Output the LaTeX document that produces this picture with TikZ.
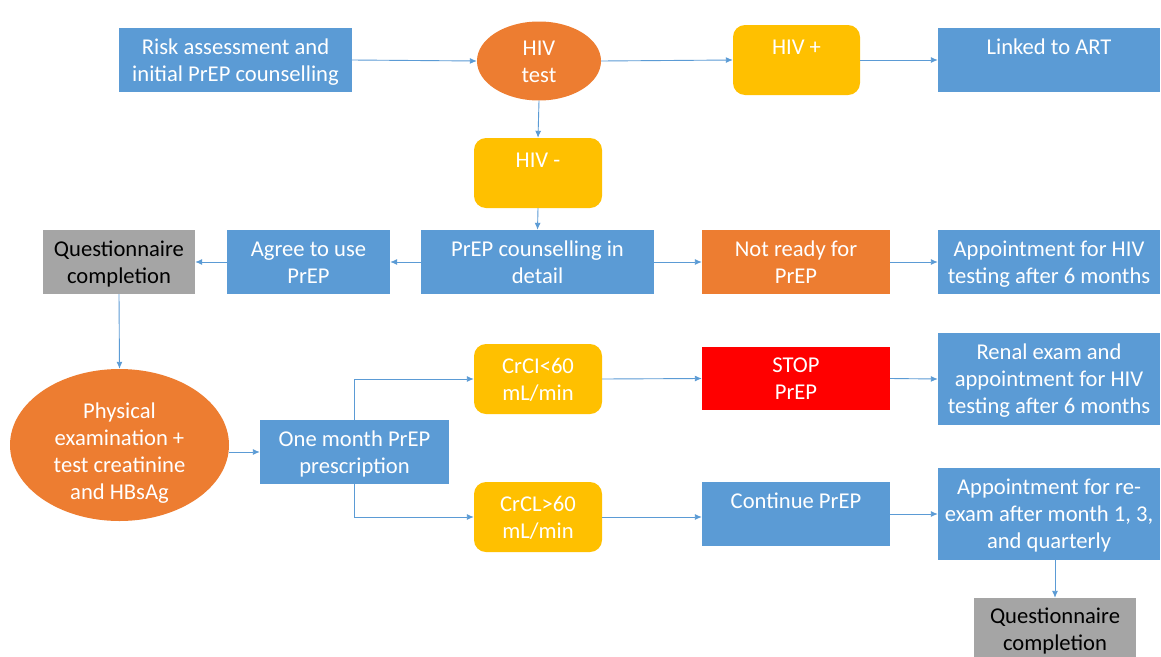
\documentclass[tikz,border=0pt]{standalone}
\usepackage{fontspec}
\setmainfont{Carlito}
\usetikzlibrary{shapes.geometric,arrows.meta}
\definecolor{cblue}{HTML}{5B9BD5}
\definecolor{corange}{HTML}{ED7D31}
\definecolor{cyellow}{HTML}{FFC000}
\definecolor{cgray}{HTML}{A5A5A5}
\definecolor{cred}{HTML}{FF0000}
\newcommand\Tr{\rule{0pt}{21pt}}
\newcommand\Tell{\rule{0pt}{34pt}}
\newcommand\Br{\rule[-5.5pt]{0pt}{5.5pt}}
\tikzset{
  base/.style={inner sep=0pt, align=center, text=white, font=\fontsize{22.6}{27}\selectfont},
  bbox/.style={base, rectangle, fill=cblue},
  obox/.style={base, rectangle, fill=corange},
  rbox/.style={base, rectangle, fill=cred},
  gbox/.style={base, rectangle, fill=cgray, text=black},
  ybox/.style={base, rectangle, rounded corners=12pt, fill=cyellow},
  oell/.style={base, ellipse, fill=corange},
  arr/.style={draw=cblue, line width=0.9pt, -{Latex[length=7pt,width=6pt]}},
}
\begin{document}
\begin{tikzpicture}[x=1pt,y=-1pt]
\useasboundingbox[fill=white] (0,0) rectangle (1161,656);
% top row
\node[bbox, minimum width=233, minimum height=64] (risk) at (235.5,60) {\Tr Risk assessment and\\initial PrEP counselling\Br};
\node[oell, minimum width=124, minimum height=79] (hiv) at (539,61) {\Tr HIV\\test\Br};
\node[ybox, minimum width=127, minimum height=70] (hivp) at (796.5,60) {\Tr HIV +\\\Br};
\node[bbox, minimum width=222, minimum height=64] (art) at (1049,60) {\Tr Linked to ART\\\Br};
\node[ybox, minimum width=128, minimum height=70] (hivn) at (538,173) {\Tr HIV -\\\Br};
% second row
\node[bbox, minimum width=233, minimum height=64] (coun) at (537.5,262) {\Tr PrEP counselling in\\detail\Br};
\node[bbox, minimum width=163, minimum height=64] (agree) at (308.5,262) {\Tr Agree to use\\PrEP\Br};
\node[gbox, minimum width=152, minimum height=64] (q1) at (119,262) {\Tr Questionnaire\\completion\Br};
\node[obox, minimum width=188, minimum height=64] (notr) at (796,262) {\Tr Not ready for\\PrEP\Br};
\node[bbox, minimum width=222, minimum height=64] (app1) at (1049,262) {\Tr Appointment for HIV\\testing after 6 months\Br};
% lower part
\node[oell, minimum width=219, minimum height=152, inner ysep=-10pt] (phys) at (119.5,445) {\Tell Physical\\examination +\\test creatinine\\and HBsAg\Br};
\node[bbox, minimum width=189, minimum height=64] (one) at (354.5,452) {\Tr One month PrEP\\prescription\Br};
\node[ybox, minimum width=128, minimum height=70] (c1) at (538,379) {\Tr CrCI<60\\mL/min\Br};
\node[rbox, minimum width=188, minimum height=63] (stop) at (796,378.5) {\Tr STOP\\PrEP\Br};
\node[bbox, minimum width=222, minimum height=92] (renal) at (1049,379) {\Tr Renal exam and\\appointment for HIV\\testing after 6 months\Br};
\node[ybox, minimum width=128, minimum height=70] (c2) at (538,517) {\Tr CrCL>60\\mL/min\Br};
\node[bbox, minimum width=188, minimum height=64] (cont) at (796,514) {\Tr Continue PrEP\\\Br};
\node[bbox, minimum width=222, minimum height=92] (app2) at (1049,514) {\Tr Appointment for re-\\exam after month 1, 3,\\and quarterly\Br};
\node[gbox, minimum width=162, minimum height=62] (q2) at (1055,629) {\Tr Questionnaire\\completion\Br};
% connectors
\draw[arr] (risk.east) -- (hiv.west);
\draw[arr] (hiv.east) -- (hivp.west);
\draw[arr] (hivp.east) -- (art.west);
\draw[arr] (hiv.south) -- (hivn.north);
\draw[arr] (hivn.south) -- (coun.north);
\draw[arr] (coun.west) -- (agree.east);
\draw[arr] (agree.west) -- (q1.east);
\draw[arr] (coun.east) -- (notr.west);
\draw[arr] (notr.east) -- (app1.west);
\draw[arr] (q1.south) -- (phys.north);
\draw[arr] (one.west -| phys.east) -- (one.west);
\draw[arr] (one.north) |- (c1.west);
\draw[arr] (one.south) |- (c2.west);
\draw[arr] (c1.east) -- (stop.west);
\draw[arr] (stop.east) -- (renal.west);
\draw[arr] (c2.east) -- (c2.east -| cont.west);
\draw[arr] (cont.east) -- (app2.west);
\draw[arr] (app2.south -| q2.north) -- (q2.north);
\end{tikzpicture}
\end{document}
